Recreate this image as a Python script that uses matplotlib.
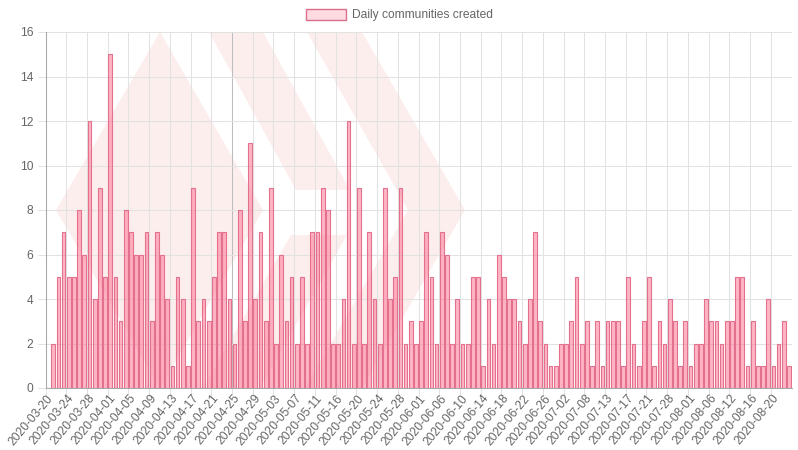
import numpy as np
import matplotlib
matplotlib.use("Agg")
import matplotlib.pyplot as plt
from matplotlib.patches import Polygon, Patch
from matplotlib.transforms import ScaledTranslation

plt.rcParams['font.family'] = ['Liberation Sans', 'DejaVu Sans']

# communities created per day
daily_counts = [0, 2, 5, 7, 5, 5, 8, 6, 12, 4, 9, 5, 15, 5, 3, 8, 7, 6, 6, 7, 3, 7, 6, 4,
                1, 5, 4, 1, 9, 3, 4, 3, 5, 7, 7, 4, 2, 8, 3, 11, 4, 7, 3, 9, 2, 6, 3,
                5, 2, 5, 2, 7, 7, 9, 8, 2, 2, 4, 12, 2, 9, 2, 7, 4, 2, 9, 4, 5, 9, 2,
                3, 2, 3, 7, 5, 2, 7, 6, 2, 4, 2, 2, 5, 5, 1, 4, 2, 6, 5, 4, 4, 3, 2, 4, 7,
                3, 2, 1, 1, 2, 2, 3, 5, 2, 3, 1, 3, 1, 3, 3, 3, 1, 5, 2, 1, 3, 5, 1, 3,
                2, 4, 3, 1, 3, 1, 2, 2, 4, 3, 3, 2, 3, 3, 5, 5, 1, 3, 1, 1, 4, 1, 2, 3, 1]

tick_labels = ['2020-03-20', '2020-03-24', '2020-03-28', '2020-04-01', '2020-04-05', '2020-04-09',
               '2020-04-13', '2020-04-17', '2020-04-21', '2020-04-25', '2020-04-29', '2020-05-03',
               '2020-05-07', '2020-05-11', '2020-05-16', '2020-05-20', '2020-05-24', '2020-05-28',
               '2020-06-01', '2020-06-06', '2020-06-10', '2020-06-14', '2020-06-18', '2020-06-22',
               '2020-06-26', '2020-07-02', '2020-07-08', '2020-07-13', '2020-07-17', '2020-07-21',
               '2020-07-28', '2020-08-01', '2020-08-06', '2020-08-12', '2020-08-16', '2020-08-20']

W, H = 798, 450
TEXT = '#666666'
GRID = '#e2e2e2'


def px(x, y):
    # pixel position in the picture -> figure fraction
    return (x / W, 1 - y / H)


fig = plt.figure(figsize=(W / 100, H / 100), dpi=100)
ax = fig.add_axes([45.5 / W, 1 - 388 / H, 746 / W, 356 / H])

# faint logo behind the chart
logo = [
    [(56, 210), (160, 32), (263, 210), (160, 388)],
    [(209, 32), (263, 32), (350, 190), (296, 190)],
    [(307, 32), (362, 32), (465, 210), (362, 388), (305, 388), (408, 210)],
    [(291, 235), (347, 235), (260, 388), (203, 388)],
]
for shape in logo:
    ax.add_patch(Polygon([px(*p) for p in shape], closed=True, transform=fig.transFigure,
                         facecolor='#fdeeee', edgecolor='none', zorder=0))

x = np.arange(len(daily_counts))
ax.bar(x, daily_counts, width=0.72, color=(1, 0.47, 0.58, 0.55),
       edgecolor='#e4708f', linewidth=0.8, zorder=2)

ax.set_xlim(-0.5, len(daily_counts) - 0.5)
ax.set_ylim(0, 16)
ax.set_yticks(np.arange(0, 17, 2))
ax.set_xticks(np.arange(len(tick_labels)) * 4 - 0.5)
ax.set_xticklabels(tick_labels, rotation=50, ha='right', va='top', rotation_mode='anchor')

ax.set_axisbelow(True)
ax.grid(True, color=GRID, linewidth=0.75)
ax.xaxis.get_gridlines()[9].set_color('#bdbdbd')
ax.tick_params(axis='y', length=5.8, width=0.75, color=GRID, labelcolor=TEXT,
               labelsize=8.64, pad=3)
ax.tick_params(axis='x', length=5.8, width=0.75, color=GRID, labelcolor=TEXT,
               labelsize=8.64, pad=1)

# the date labels sit a little higher and further right than the default
shift = ScaledTranslation(1 / 100, 5 / 100, fig.dpi_scale_trans)
for label in ax.get_xticklabels():
    label.set_transform(label.get_transform() + shift)

for side in ['top', 'right']:
    ax.spines[side].set_visible(False)
for side in ['left', 'bottom']:
    ax.spines[side].set_color('#a8a8a8')
    ax.spines[side].set_linewidth(0.75)

handle = Patch(facecolor='#fddbe1', edgecolor='#db6f8b', linewidth=1)
fig.legend(handles=[handle], labels=['Daily communities created'], loc='center',
           bbox_to_anchor=px(399, 15), frameon=False, fontsize=8.64, labelcolor=TEXT,
           handlelength=3.33, handleheight=1.0, handletextpad=0.5)

fig.savefig('out.png', dpi=100)
